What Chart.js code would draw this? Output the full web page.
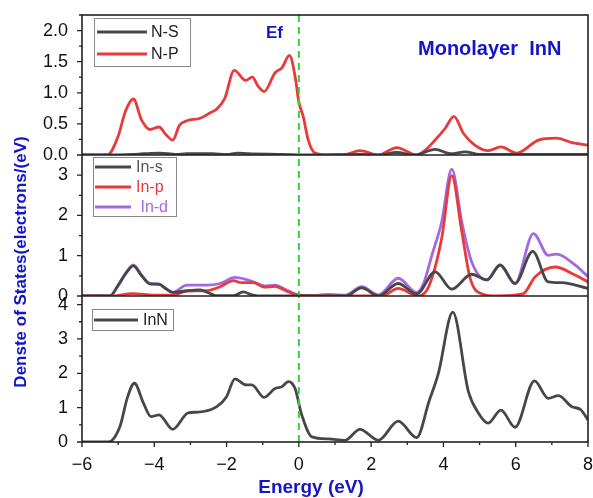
<!DOCTYPE html>
<html>
<head>
<meta charset="utf-8">
<script src="https://cdn.jsdelivr.net/npm/chart.js@4.4.1/dist/chart.umd.min.js"></script>
<style>
  body { margin: 0; background: #fff; }
  canvas { display: block; }
</style>
</head>
<body>
<canvas id="dosChart" width="593" height="498"></canvas>
<script>
// N atom partial DOS (top panel)
var nsE = [-6, -5.3, -4.6, -4.3, -3.84, -3.4, -3.1, -2.7, -2.4, -2.0, -1.7, -1.4, -0.5, 0.3, 1.7, 2.2, 2.71, 3.2, 3.77, 4.2, 4.6, 5.0, 6.0, 8.0];
var nsDos = [0, 0, 0.01, 0.02, 0.03, 0.01, 0.02, 0.02, 0.02, 0.01, 0.03, 0.02, 0.01, 0, 0.01, 0, 0.04, 0, 0.09, 0.02, 0.05, 0.01, 0.01, 0.01];

var npE = [-6, -5.3, -5.0, -4.8, -4.58, -4.35, -4.12, -3.87, -3.68, -3.49, -3.3, -3.1, -2.73, -2.45, -2.27, -2.05, -1.79, -1.47, -1.29, -1.12, -0.96, -0.66, -0.47, -0.26, -0.1, 0.0, 0.12, 0.26, 0.45, 0.8, 1.3, 1.69, 2.2, 2.71, 3.26, 3.5, 3.77, 4.05, 4.29, 4.55, 4.87, 5.24, 5.59, 6.03, 6.63, 7.13, 7.55, 8.0];
var npDos = [0, 0, 0.30, 0.70, 0.90, 0.56, 0.41, 0.45, 0.33, 0.24, 0.48, 0.55, 0.59, 0.68, 0.74, 0.91, 1.36, 1.20, 1.25, 1.10, 1.02, 1.32, 1.40, 1.60, 1.25, 0.85, 0.62, 0.24, 0.03, 0, 0.01, 0.07, 0.0, 0.12, 0.0, 0.08, 0.24, 0.43, 0.62, 0.35, 0.16, 0.07, 0.13, 0.03, 0.24, 0.27, 0.20, 0.16];

// In atom partial DOS (middle panel)
var insE = [-6, -5.23, -5.0, -4.8, -4.58, -4.35, -4.12, -3.87, -3.68, -3.49, -3.1, -2.73, -2.5, -2.3, -1.8, -1.54, -1.3, -1.0, 0, 1.3, 1.74, 2.2, 2.75, 3.26, 3.77, 4.23, 4.78, 5.2, 5.57, 5.98, 6.47, 6.9, 7.27, 8.0];
var insDos = [0, 0, 0.26, 0.54, 0.75, 0.50, 0.30, 0.29, 0.18, 0.09, 0.13, 0.15, 0.08, 0.01, 0.01, 0.10, 0.03, 0.0, 0.0, 0.0, 0.20, 0.0, 0.31, 0.05, 0.60, 0.17, 0.54, 0.40, 0.77, 0.31, 1.11, 0.35, 0.33, 0.19];

var inpE = [-6, -5.2, -4.6, -4.0, -3.5, -3.1, -2.55, -2.18, -1.81, -1.59, -1.26, -0.96, -0.66, -0.34, 0.0, 1.5, 2.3, 2.75, 3.3, 3.6, 3.95, 4.23, 4.51, 4.74, 5.07, 5.5, 6.2, 6.54, 7.09, 7.64, 8.0];
var inpDos = [0, 0, 0.06, 0.02, 0.02, 0.12, 0.13, 0.23, 0.38, 0.33, 0.33, 0.22, 0.24, 0.12, 0.02, 0, 0, 0.19, 0.0, 0.25, 1.42, 2.99, 1.59, 0.44, 0.05, 0, 0.05, 0.48, 0.72, 0.52, 0.35];

var indE = [-6, -5.23, -5.0, -4.8, -4.58, -4.35, -4.12, -3.87, -3.68, -3.49, -3.1, -2.55, -2.18, -1.77, -1.5, -1.26, -0.94, -0.66, -0.34, 0.03, 0.4, 0.82, 1.28, 1.74, 2.2, 2.75, 3.26, 3.45, 3.68, 3.95, 4.23, 4.51, 4.78, 5.2, 5.57, 5.98, 6.49, 6.9, 7.13, 7.64, 8.0];
var indDos = [0, 0, 0.27, 0.56, 0.77, 0.52, 0.31, 0.30, 0.19, 0.09, 0.27, 0.27, 0.31, 0.46, 0.42, 0.35, 0.25, 0.27, 0.15, 0.02, 0.01, 0.04, 0.02, 0.23, 0.03, 0.44, 0.09, 0.31, 1.01, 1.83, 3.15, 1.83, 0.85, 0.40, 0.77, 0.31, 1.55, 1.01, 1.04, 0.77, 0.48];

// total DOS (bottom panel)
var totE = [-6, -5.27, -4.95, -4.75, -4.55, -4.3, -4.09, -3.87, -3.49, -3.06, -2.79, -2.27, -2.0, -1.77, -1.46, -1.3, -0.96, -0.66, -0.47, -0.29, -0.11, 0.08, 0.36, 0.82, 1.28, 1.69, 2.2, 2.75, 3.26, 3.6, 3.86, 4.26, 4.69, 4.97, 5.24, 5.59, 5.98, 6.52, 6.9, 7.18, 7.55, 7.8, 8.0];
var totDos = [0, 0, 0.45, 1.27, 1.71, 1.13, 0.74, 0.79, 0.37, 0.85, 0.87, 1.03, 1.32, 1.84, 1.66, 1.66, 1.30, 1.56, 1.61, 1.76, 1.57, 0.79, 0.15, 0.09, 0.05, 0.37, 0.05, 0.61, 0.13, 1.18, 2.00, 3.78, 1.47, 0.84, 0.55, 0.93, 0.43, 1.78, 1.27, 1.35, 1.03, 0.94, 0.64];

var xTicks = [-6, -4, -2, 0, 2, 4, 6, 8];

var GRAY = '#474747';
var RED = '#e8393b';
var PURPLE = '#a469e0';
var BLUE = '#1414c8';

let points = function(xs, ys){
    return xs.map(function(x, i){ return {x: x, y: ys[i]}; });
}

let line = function(label, xs, ys, color, axis){
    return {
        label: label,
        data: points(xs, ys),
        borderColor: color,
        borderWidth: 2.8,
        pointRadius: 0,
        cubicInterpolationMode: 'monotone',
        yAxisID: axis
    };
}

let minus = function(v){
    return v < 0 ? '\u2212' + Math.abs(v) : '' + v;
}

// y axis panels: [id, minor step, major step]
var panels = [['yTop', 0.25, 0.5], ['yMid', 0.5, 1], ['yBot', 0.5, 1]];

var legends = [
    {box: [94, 18, 96, 48], items: [['N-S', GRAY, '#222', 32], ['N-P', RED, '#222', 54]], x0: 97, x1: 147, tx: 151},
    {box: [93, 157, 83, 59], items: [['In-s', GRAY, '#555', 167], ['In-p', RED, RED, 187], [' In-d', PURPLE, PURPLE, 207]], x0: 95, x1: 131, tx: 136},
    {box: [92, 309, 81, 21], items: [['InN', GRAY, '#222', 320]], x0: 94, x1: 138, tx: 143}
];

var decor = {
    id: 'decor',
    afterDatasetsDraw: function(chart){
        var c = chart.ctx;
        var a = chart.chartArea;
        var sx = chart.scales.x;
        c.save();

        // Fermi level
        var x0 = sx.getPixelForValue(0);
        c.strokeStyle = '#2bd82b';
        c.lineWidth = 2;
        c.setLineDash([7, 5]);
        c.beginPath();
        c.moveTo(x0, a.top);
        c.lineTo(x0, a.bottom);
        c.stroke();
        c.setLineDash([]);

        // frames
        c.strokeStyle = '#222';
        c.lineWidth = 1.6;
        c.strokeRect(a.left, a.top, a.right - a.left, a.bottom - a.top);
        c.beginPath();
        c.moveTo(a.left, chart.scales.yMid.top);
        c.lineTo(a.right, chart.scales.yMid.top);
        c.moveTo(a.left, chart.scales.yBot.top);
        c.lineTo(a.right, chart.scales.yBot.top);
        c.stroke();

        // tick marks
        c.lineWidth = 1.3;
        c.beginPath();
        panels.forEach(function(p){
            var s = chart.scales[p[0]];
            for (var v = s.min; v <= s.max + 1e-6; v += p[1]) {
                var r = v / p[2];
                var len = Math.abs(r - Math.round(r)) < 1e-6 ? 5 : 3;
                var y = s.getPixelForValue(v);
                c.moveTo(a.left - len, y);
                c.lineTo(a.left, y);
            }
        });
        for (var v = sx.min; v <= sx.max; v += 1) {
            var len = v % 2 === 0 ? 5 : 3;
            var x = sx.getPixelForValue(v);
            c.moveTo(x, a.bottom);
            c.lineTo(x, a.bottom + len);
        }
        c.stroke();

        // titles
        c.fillStyle = BLUE;
        c.font = 'bold 17px "Liberation Sans", Arial, sans-serif';
        c.textBaseline = 'middle';
        c.textAlign = 'left';
        c.fillText('Ef', 266, 33);
        c.font = 'bold 20px "Liberation Sans", Arial, sans-serif';
        c.fillText('Monolayer  InN', 418, 49);
        c.font = 'bold 19px "Liberation Sans", Arial, sans-serif';
        c.textAlign = 'center';
        c.fillText('Energy (eV)', 311, 488);
        c.save();
        c.translate(21, 262);
        c.rotate(-Math.PI / 2);
        c.font = 'bold 17px "Liberation Sans", Arial, sans-serif';
        c.fillText('Denste of States(electrons/(eV)', 0, 0);
        c.restore();

        // legends
        c.textAlign = 'left';
        c.font = '16px "Liberation Sans", Arial, sans-serif';
        legends.forEach(function(lg){
            c.fillStyle = '#fff';
            c.fillRect(lg.box[0], lg.box[1], lg.box[2], lg.box[3]);
            c.strokeStyle = '#888';
            c.lineWidth = 1;
            c.strokeRect(lg.box[0] + 0.5, lg.box[1] + 0.5, lg.box[2], lg.box[3]);
            lg.items.forEach(function(it){
                c.strokeStyle = it[1];
                c.lineWidth = 2.8;
                c.beginPath();
                c.moveTo(lg.x0, it[3]);
                c.lineTo(lg.x1, it[3]);
                c.stroke();
                c.fillStyle = it[2];
                c.fillText(it[0], lg.tx, it[3] + 1);
            });
        });
        c.restore();
    }
};

Chart.defaults.font.family = '"Liberation Sans", Arial, sans-serif';
Chart.defaults.color = '#111';

let yAxis = function(max, step, weight, fmt){
    return {
        type: 'linear',
        position: 'left',
        stack: 'dos',
        stackWeight: weight,
        min: 0,
        max: max,
        grid: {display: false},
        border: {display: false},
        ticks: {
            stepSize: step,
            includeBounds: false,
            autoSkip: false,
            padding: 6,
            font: {size: 18},
            callback: fmt
        },
        afterFit: function(scale){
            scale.width = 82;
            scale.paddingTop = 0;
            scale.paddingBottom = 0;
        }
    };
}

var ctx = document.getElementById('dosChart').getContext('2d');
var chart = new Chart(ctx, {
    // The type of chart we want to create
    type: 'line',

    // The data for our dataset
    data: {
        datasets: [
            line('N-S', nsE, nsDos, GRAY, 'yTop'),
            line('N-P', npE, npDos, RED, 'yTop'),
            line('In-s', insE, insDos, GRAY, 'yMid'),
            line('In-p', inpE, inpDos, RED, 'yMid'),
            line('In-d', indE, indDos, PURPLE, 'yMid'),
            line('InN', totE, totDos, GRAY, 'yBot')
        ]
    },

    // Configuration options go here
    options: {
        responsive: false,
        animation: false,
        layout: {padding: {top: 15, right: 5, left: 0, bottom: 0}},
        plugins: {
            legend: {display: false},
            tooltip: {enabled: false}
        },
        scales: {
            x: {
                type: 'linear',
                min: -6,
                max: 8,
                grid: {display: false},
                border: {display: false},
                afterBuildTicks: function(scale){
                    scale.ticks = xTicks.map(function(v){ return {value: v}; });
                },
                ticks: {
                    padding: 4,
                    autoSkip: false,
                    font: {size: 18},
                    maxRotation: 0,
                    callback: function(v){ return minus(v); }
                },
                afterFit: function(scale){
                    scale.height = 56;
                    scale.paddingLeft = 0;
                    scale.paddingRight = 0;
                }
            },
            yBot: yAxis(4.25, 1, 146, function(v){ return '' + v; }),
            yMid: yAxis(3.5, 1, 141, function(v){ return '' + v; }),
            yTop: yAxis(2.25, 0.5, 140, function(v){ return v.toFixed(1); })
        }
    },
    plugins: [decor]
});
</script>
</body>
</html>
